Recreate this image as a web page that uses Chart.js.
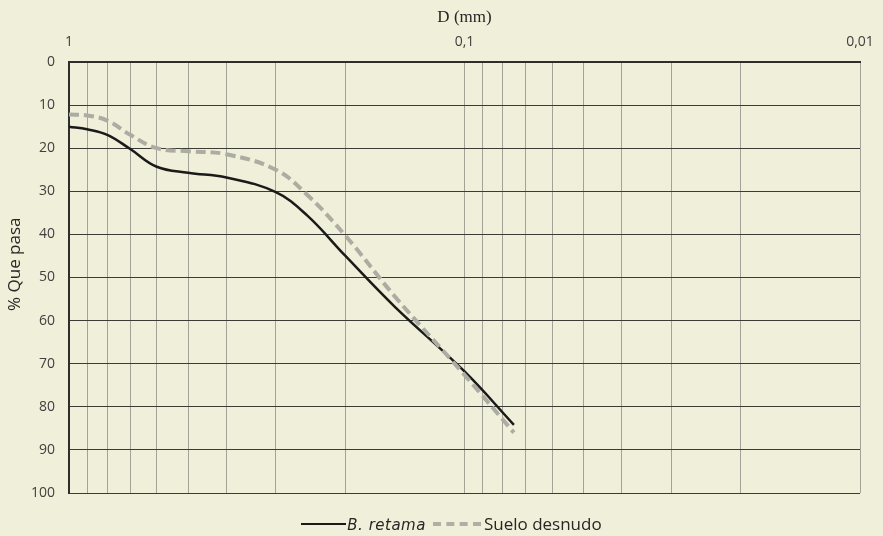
<!DOCTYPE html>
<html>
<head>
<meta charset="utf-8">
<script src="https://cdn.jsdelivr.net/npm/chart.js@4/dist/chart.umd.min.js"></script>
<style>
  html, body { margin: 0; padding: 0; background: #f0efd9; }
  #wrap { position: relative; width: 883px; height: 536px; }
  #legend { position: absolute; left: 10px; top: 512px; width: 883px; text-align: center;
            font-family: "Open Sans", sans-serif; font-size: 17px; color: #262626; white-space: nowrap; }
  .sw { display: inline-block; width: 45px; height: 0; vertical-align: middle; margin: 0 1px 0 0; position: relative; top: -1px; }
  .solid { border-top: 2.5px solid #1a1a1a; }
  .dash { border-top: 4px dashed #b0afa6; width: 48px; margin-right: 3px; }
  .it { font-family: "DejaVu Sans", sans-serif; font-size: 15px; font-style: italic; margin-right: 7px; letter-spacing: 0.5px; }
</style>
</head>
<body>
<div id="wrap">
  <canvas id="c" width="883" height="536"></canvas>
  <div id="legend"><span class="sw solid"></span><span class="it">B. retama</span><span class="sw dash"></span><span>Suelo desnudo</span></div>
</div>
<script>
const sizes  = [1, 0.9, 0.8, 0.7, 0.6, 0.5, 0.4, 0.3, 0.25, 0.2, 0.15, 0.1, 0.075];
const retama = [15, 15.6, 16.9, 20.2, 24.3, 25.7, 26.8, 30.2, 35.6, 45.0, 56.8, 71.8, 84.2];
const suelo  = [12.2, 12.4, 13.6, 16.9, 20.0, 20.7, 21.4, 25.0, 30.8, 40.3, 54.4, 72.6, 86.0];
const yTicks = [0, 10, 20, 30, 40, 50, 60, 70, 80, 90, 100];

const toPts = arr => arr.map((v, i) => ({ x: sizes[i], y: v }));

new Chart(document.getElementById('c'), {
  type: 'line',
  data: {
    datasets: [
      { label: 'B. retama', data: toPts(retama), borderColor: '#1a1a1a', borderWidth: 2.5,
        pointRadius: 0, tension: 0.4, fill: false, order: 1 },
      { label: 'Suelo desnudo', data: toPts(suelo), borderColor: '#adaca3', borderWidth: 4,
        borderDash: [10, 5], pointRadius: 0, tension: 0.4, fill: false, order: 0 }
    ]
  },
  options: {
    responsive: false,
    animation: false,
    layout: { padding: { left: 0, right: 23, top: 0, bottom: 43 } },
    plugins: { legend: { display: false }, tooltip: { enabled: false } },
    scales: {
      x: {
        type: 'logarithmic', position: 'top', reverse: true, min: 0.01, max: 1,
        afterFit: s => { s.height = 62; },
        afterBuildTicks: s => {
          const t = [];
          [0.01, 0.1].forEach(d => { for (let k = 1; k <= 9; k++) t.push({ value: +(d * k).toPrecision(3) }); });
          t.push({ value: 1 });
          s.ticks = t;
        },
        border: { display: true, color: '#2e2e2a', width: 2 },
        grid: { color: '#a3a299', lineWidth: 1, drawTicks: false },
        ticks: {
          autoSkip: false, maxRotation: 0, padding: 12, color: '#404040',
          font: { family: '"Open Sans", sans-serif', size: 14 },
          callback: v => {
            const l = Math.log10(v);
            return Math.abs(l - Math.round(l)) < 1e-6 ? String(v).replace('.', ',') : '';
          }
        },
        title: { display: true, text: 'D (mm)', color: '#262626', padding: { top: 7, bottom: 0 },
                 font: { family: '"Liberation Serif", serif', size: 17 } }
      },
      y: {
        type: 'linear', reverse: true, min: 0, max: 100,
        afterFit: s => { s.width = 69; },
        afterBuildTicks: s => { s.ticks = yTicks.map(v => ({ value: v })); },
        border: { display: true, color: '#2e2e2a', width: 2 },
        grid: { color: '#3c3c36', lineWidth: 1, drawTicks: false },
        ticks: { padding: 14, color: '#404040', font: { family: '"Open Sans", sans-serif', size: 14 } },
        title: { display: true, text: '\u00a0\u00a0\u00a0\u00a0\u00a0\u00a0% Que pasa', color: '#262626', padding: { top: 5, bottom: 4 },
                 font: { family: '"Open Sans", sans-serif', size: 17 } }
      }
    }
  }
});
</script>
</body>
</html>
